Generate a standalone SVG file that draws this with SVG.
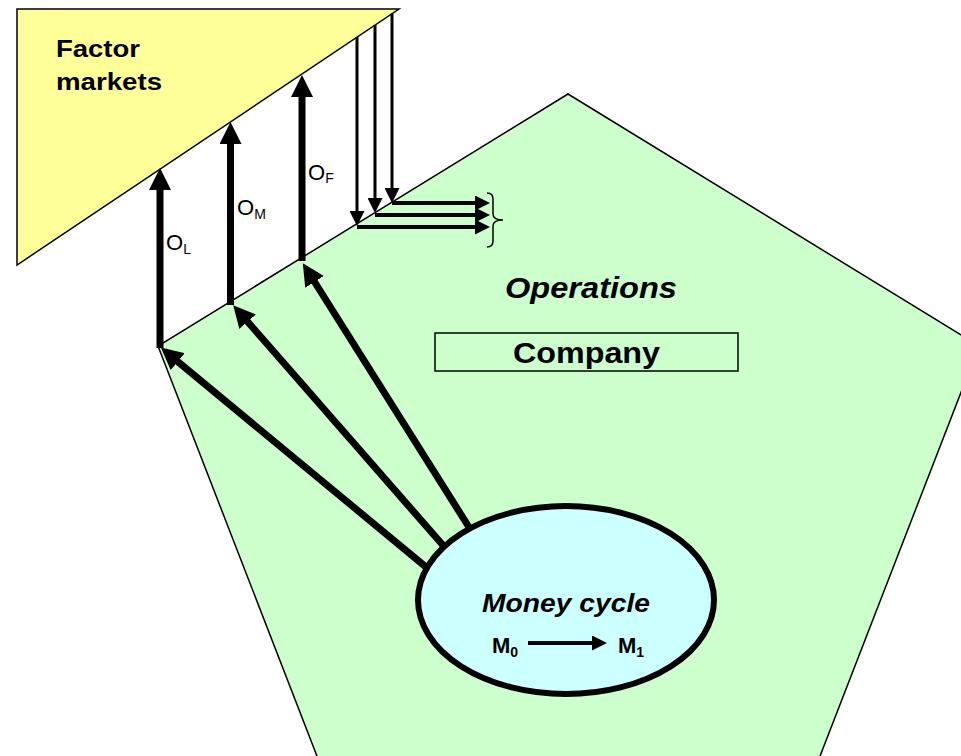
<svg xmlns="http://www.w3.org/2000/svg" width="961" height="756" viewBox="0 0 961 756">
<style>
  .shape { stroke: #000; stroke-width: 1.5; stroke-linejoin: miter; }
  .txt { font-family: "Liberation Sans", Arial, sans-serif; fill: #000; }
  .b { font-weight: bold; }
  .bi { font-weight: bold; font-style: italic; }
  .thick { stroke: #000; stroke-width: 7; fill: none; marker-end: url(#big); }
  .thin { stroke: #000; stroke-width: 3; fill: none; marker-end: url(#small); }
  .mid { stroke: #000; stroke-width: 4; fill: none; marker-end: url(#small); }
</style>
<defs>
  <marker id="big" markerUnits="userSpaceOnUse" viewBox="0 0 22 22" markerWidth="22" markerHeight="22" refX="1" refY="11" orient="auto">
    <path d="M0,0 L22,11 L0,22 z" fill="#000"/>
  </marker>
  <marker id="small" markerUnits="userSpaceOnUse" viewBox="0 0 15 15" markerWidth="15" markerHeight="15" refX="1" refY="7.5" orient="auto">
    <path d="M0,0 L15,7.5 L0,15 z" fill="#000"/>
  </marker>
</defs>
<rect width="961" height="756" fill="#fff"/>

<g id="operations">
  <polygon class="shape" fill="#ccffcc" points="568,94 979,346 803,800 334,800 158,346"/>
  <text class="txt bi" x="505" y="298" font-size="29" textLength="172" lengthAdjust="spacingAndGlyphs">Operations</text>
</g>

<g id="factor-markets">
  <polygon class="shape" fill="#ffff99" points="17,9 399,9 17,265"/>
  <text class="txt b" x="56" y="57" font-size="24" textLength="84" lengthAdjust="spacingAndGlyphs">Factor</text>
  <text class="txt b" x="56" y="90" font-size="24" textLength="106" lengthAdjust="spacingAndGlyphs">markets</text>
</g>

<g id="company">
  <rect class="shape" fill="none" x="435" y="333" width="303" height="38"/>
  <text class="txt b" x="513" y="363" font-size="29" textLength="147" lengthAdjust="spacingAndGlyphs">Company</text>
</g>

<g id="connectors">
  <line class="thick" x1="432" y1="572" x2="177" y2="361"/>
  <line class="thick" x1="448" y1="551" x2="247" y2="321"/>
  <line class="thick" x1="472" y1="532" x2="314" y2="281"/>
  <line class="thick" x1="160" y1="348" x2="160" y2="189"/>
  <line class="thick" x1="230.5" y1="305" x2="230.5" y2="143"/>
  <line class="thick" x1="302" y1="261" x2="302" y2="96"/>
  <line class="thin" x1="357" y1="37" x2="357" y2="212"/>
  <line class="thin" x1="375" y1="25" x2="375" y2="199"/>
  <line class="thin" x1="392" y1="13.5" x2="392" y2="189"/>
  <line class="mid" x1="357" y1="227" x2="476" y2="227"/>
  <line class="mid" x1="375" y1="215" x2="476" y2="215"/>
  <line class="mid" x1="392" y1="203" x2="476" y2="203"/>
  <path d="M487,193 Q493,193 493,199 L493,214 Q493,220 503,220 Q493,220 493,226 L493,241 Q493,247 487,247" fill="none" stroke="#000" stroke-width="1.5"/>
</g>

<g id="labels">
  <text class="txt" x="166" y="250" font-size="22">O<tspan font-size="14" dy="4">L</tspan></text>
  <text class="txt" x="237" y="215" font-size="22">O<tspan font-size="14" dy="4">M</tspan></text>
  <text class="txt" x="308" y="180" font-size="22">O<tspan font-size="14" dy="3">F</tspan></text>
</g>

<g id="money-cycle">
  <ellipse cx="566" cy="600" rx="148" ry="94" fill="#ccffff" stroke="#000" stroke-width="6"/>
  <text class="txt bi" x="482" y="612" font-size="25" textLength="168" lengthAdjust="spacingAndGlyphs">Money cycle</text>
  <text class="txt b" x="492" y="653" font-size="22">M<tspan font-size="14" dy="4">0</tspan></text>
  <text class="txt b" x="618" y="653" font-size="22">M<tspan font-size="14" dy="4">1</tspan></text>
  <line class="mid" x1="528" y1="643" x2="593" y2="643" stroke-width="5"/>
</g>
</svg>
